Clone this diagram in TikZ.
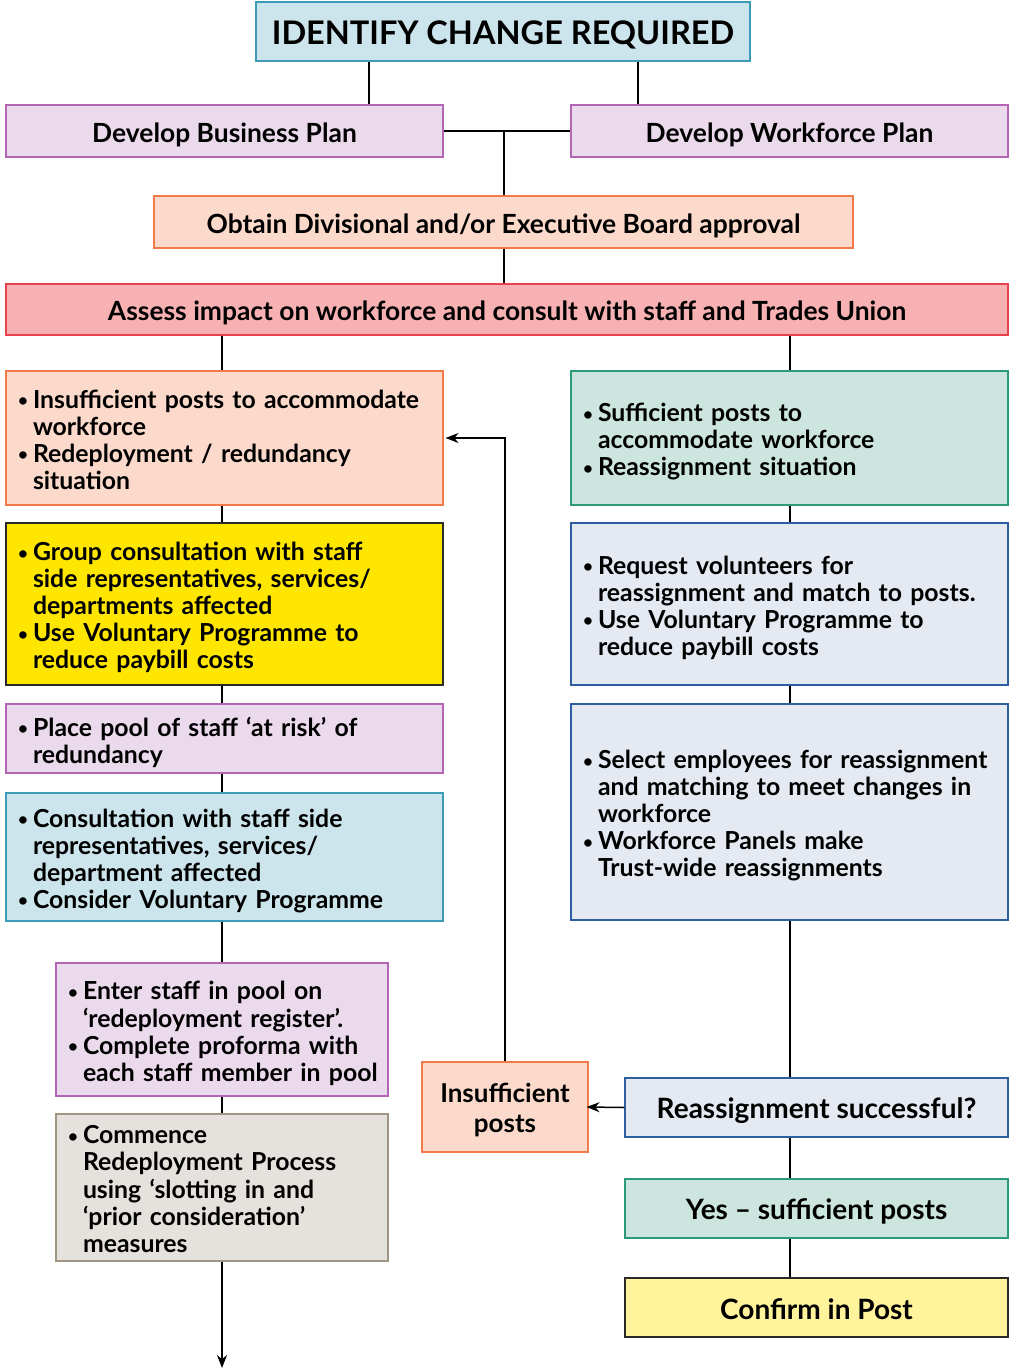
\documentclass[tikz,border=0pt]{standalone}
\usepackage{fontspec}
\usepackage{graphicx}
\setmainfont{Lato}
\usetikzlibrary{arrows.meta}
\definecolor{bluefill}{HTML}{CCE5EC}\definecolor{blueline}{HTML}{3C9BB5}
\definecolor{purfill}{HTML}{EBD9EC}\definecolor{purline}{HTML}{B565B5}
\definecolor{peachfill}{HTML}{FCDACB}\definecolor{orline}{HTML}{F27A4A}
\definecolor{redfill}{HTML}{F7B1B3}\definecolor{redline}{HTML}{E8424F}
\definecolor{yelfill}{HTML}{FFE600}\definecolor{darkline}{HTML}{2A2A2A}
\definecolor{grnfill}{HTML}{CCE6DF}\definecolor{grnline}{HTML}{2A9A78}
\definecolor{gbfill}{HTML}{E4E9F2}\definecolor{gbline}{HTML}{2E5E9E}
\definecolor{greyfill}{HTML}{E5E1DC}\definecolor{brnline}{HTML}{A09482}
\definecolor{ltyel}{HTML}{FFF39B}
\newcommand\dn[2]{\raisebox{-#1pt}[\height][\depth]{#2}}
\newcommand\bt[1]{\dn{5.5}{\begin{tabular}{@{}p{16pt}@{}l@{}}#1\end{tabular}}}
\newcommand\bu{\hspace*{1pt}\raisebox{1.6pt}{\fontsize{17}{17}\selectfont\textbullet}}
\begin{document}
\begin{tikzpicture}[x=1pt,y=-1pt,
  bx/.style={draw, line width=1.1pt, inner sep=0pt, align=center, font=\bfseries\fontsize{26.4}{30}\selectfont},
  lbx/.style={bx, align=left, inner xsep=11pt, text width=#1-22pt, minimum width=#1, font=\bfseries\fontsize{24.8}{27}\selectfont},
  big/.style={font=\bfseries\fontsize{28}{30}\selectfont},
  conn/.style={line width=1.5pt, black},
  arr/.style={conn, -{Stealth[length=13pt,width=10pt]}},
  pur/.style={fill=purfill, draw=purline},
  blu/.style={fill=bluefill, draw=blueline},
  pch/.style={fill=peachfill, draw=orline},
  grn/.style={fill=grnfill, draw=grnline},
  gb/.style={fill=gbfill, draw=gbline}]
\useasboundingbox (0,0) rectangle (1010,1370);
\fill[white] (0,0) rectangle (1010,1370);

\node[bx, blu, minimum width=494, minimum height=59, font=\bfseries\fontsize{32.5}{34}\selectfont] (identify) at (503,31.5) {\dn{3}{IDENTIFY CHANGE REQUIRED}};
\node[bx, pur, minimum width=437, minimum height=52] (bplan) at (224.5,131) {\dn{4}{Develop Business Plan}};
\node[bx, pur, minimum width=437, minimum height=52] (wplan) at (789.5,131) {\dn{4}{Develop Workforce Plan}};
\node[bx, pch, minimum width=699, minimum height=52] (obtain) at (503.5,222) {\dn{3.5}{Obtain Divisional and/or Executive Board approval}};
\node[bx, fill=redfill, draw=redline, minimum width=1002, minimum height=51] (assess) at (507,309.5) {\dn{3.5}{Assess impact on workforce and consult with staff and Trades Union}};

\node[lbx=437, pch, minimum height=134] (insuf) at (224.5,438) {\bt{\bu & Insufficient posts to accommodate\\ & workforce\\ \bu & Redeployment / redundancy\\ & situation}};
\node[lbx=437, fill=yelfill, draw=darkline, minimum height=162] (group) at (224.5,604) {\bt{\bu & Group consultation with staff\\ & side representatives, services/\\ & departments affected\\ \bu & Use Voluntary Programme to\\ & reduce paybill costs}};
\node[lbx=437, pur, minimum height=69] (pool) at (224.5,738.5) {\bt{\bu & Place pool of staff ‘at risk’ of\\ & redundancy}};
\node[lbx=437, blu, minimum height=128] (consult) at (224.5,857) {\bt{\bu & Consultation with staff side\\ & representatives, services/\\ & department affected\\ \bu & Consider Voluntary Programme}};
\node[lbx=332, pur, minimum height=133] (enter) at (222,1029.5) {\bt{\bu & Enter staff in pool on\\ & ‘redeployment register’.\\ \bu & Complete proforma with\\ & each staff member in pool}};
\node[lbx=332, fill=greyfill, draw=brnline, minimum height=147] (commence) at (222,1187.5) {\bt{\bu & Commence\\ & Redeployment Process\\ & using ‘slotting in and\\ & ‘prior consideration’\\ & measures}};

\node[lbx=437, grn, minimum height=134] (suff) at (789.5,438) {\bt{\bu & Sufficient posts to\\ & accommodate workforce\\ \bu & Reassignment situation}};
\node[lbx=437, gb, minimum height=162] (request) at (789.5,604) {\bt{\bu & Request volunteers for\\ & reassignment and match to posts.\\ \bu & Use Voluntary Programme to\\ & reduce paybill costs}};
\node[lbx=437, gb, minimum height=216] (select) at (789.5,812) {\bt{\bu & Select employees for reassignment\\ & and matching to meet changes in\\ & workforce\\ \bu & Workforce Panels make\\ & Trust-wide reassignments}};
\node[bx, gb, big, minimum width=383, minimum height=59] (reass) at (816.5,1107.5) {\dn{3}{Reassignment successful?}};
\node[bx, grn, big, minimum width=383, minimum height=59] (yes) at (816.5,1208.5) {\dn{3}{Yes – sufficient posts}};
\node[bx, fill=ltyel, draw=darkline, big, minimum width=383, minimum height=59] (confirm) at (816.5,1307.5) {\dn{2}{Confirm in Post}};
\node[bx, pch, minimum width=166, minimum height=90, font=\bfseries\fontsize{26}{30}\selectfont] (insufposts) at (505,1107) {\dn{4}{\begin{tabular}{@{}c@{}}Insufficient\\posts\end{tabular}}};

\coordinate (bottom) at (222,1368);
\coordinate (j1) at (504,131);

\draw[conn] (369,0 |- identify.south) -- (369,0 |- bplan.north);
\draw[conn] (638,0 |- identify.south) -- (638,0 |- wplan.north);
\draw[conn] (bplan.east) -- (wplan.west);
\draw[conn] (j1) -- (j1 |- obtain.north);
\draw[conn] (504,0 |- obtain.south) -- (504,0 |- assess.north);
\draw[conn] (222,0 |- assess.south) -- (222,0 |- insuf.north);
\draw[conn] (790,0 |- assess.south) -- (790,0 |- suff.north);
\draw[conn] (222,0 |- insuf.south) -- (222,0 |- group.north);
\draw[conn] (222,0 |- group.south) -- (222,0 |- pool.north);
\draw[conn] (222,0 |- pool.south) -- (222,0 |- consult.north);
\draw[conn] (222,0 |- consult.south) -- (enter.north);
\draw[conn] (enter.south) -- (commence.north);
\draw[arr] (commence.south) -- (bottom);
\draw[conn] (790,0 |- suff.south) -- (790,0 |- request.north);
\draw[conn] (790,0 |- request.south) -- (790,0 |- select.north);
\draw[conn] (790,0 |- select.south) -- (790,0 |- reass.north);
\draw[conn] (790,0 |- reass.south) -- (790,0 |- yes.north);
\draw[conn] (790,0 |- yes.south) -- (790,0 |- confirm.north);
\draw[arr] (reass.west) -- ([xshift=-2pt]insufposts.east);
\draw[arr] (insufposts.north) |- ([xshift=2pt]insuf.east);
\end{tikzpicture}
\end{document}
